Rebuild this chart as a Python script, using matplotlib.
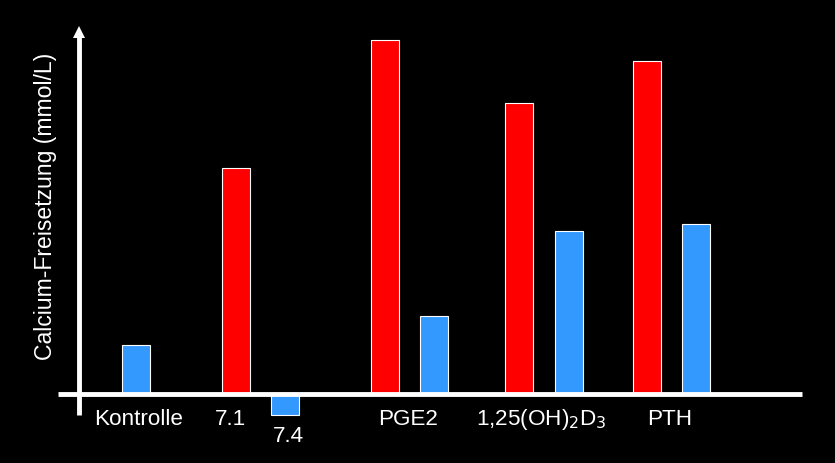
import matplotlib
matplotlib.use("Agg")
import matplotlib.pyplot as plt

plt.rcParams['font.family'] = ['Liberation Sans', 'DejaVu Sans']

# data (arbitrary units)
red_labels = ["7.1", "PGE2", "1,25(OH)2D3", "PTH"]
red_values = [22.6, 35.4, 29.1, 33.3]
blue_labels = ["Kontrolle", "7.4", "PGE2", "1,25(OH)2D3", "PTH"]
blue_values = [4.9, -2.1, 7.8, 16.3, 17.0]
tick_labels = ["Kontrolle", "7.1", "7.4", "PGE2", r"1,25(OH)$_2$D$_3$", "PTH"]

# layout (pixel-like x units)
red_x = [235.5, 384.5, 518.5, 646.5]
blue_x = [136, 285, 433.5, 569, 696]
label_x = [139, 231, 288, 408, 541, 670]
label_y = [-2.5, -2.5, -4.2, -2.5, -2.5, -2.5]
bar_w = 28

fig = plt.figure(figsize=(8.35, 4.64), dpi=100, facecolor='black')
ax = fig.add_axes([0, 0, 1, 1])
ax.set_facecolor('black')
ax.set_xlim(0, 835)
ax.set_ylim(-6.9, 39.5)
ax.axis('off')

ax.bar(red_x, red_values, width=bar_w, color='#ff0000', edgecolor='white', linewidth=0.8, zorder=2)
ax.bar(blue_x, blue_values, width=bar_w, color='#3399ff', edgecolor='white', linewidth=0.8, zorder=2)

# axes lines
ax.plot([58, 802], [0, 0], color='white', lw=3.5, solid_capstyle='butt', zorder=3)
ax.plot([79, 79], [-2.1, 35.8], color='white', lw=3.5, solid_capstyle='butt', zorder=3)
ax.plot([79], [36.2], marker='^', ms=9, color='white', mec='white', mew=0, zorder=4)

for x, y, t in zip(label_x, label_y, tick_labels):
    ax.text(x, y, t, color='white', fontsize=16.2, ha='center', va='center')

ax.text(46, 18.9, 'Calcium-Freisetzung (mmol/L)', color='white', fontsize=16.6,
        rotation=90, ha='center', va='center')

fig.savefig('out.png', dpi=100, facecolor='black')
